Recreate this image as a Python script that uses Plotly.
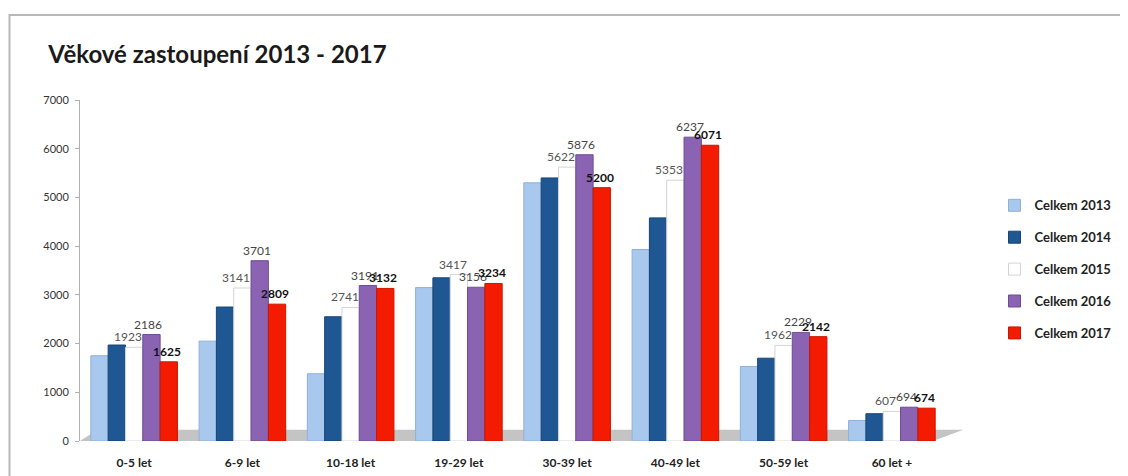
import plotly.graph_objects as go

categories = ["0-5 let", "6-9 let", "10-18 let", "19-29 let", "30-39 let", "40-49 let", "50-59 let", "60 let +"]
celkem_2013 = [1750, 2050, 1380, 3150, 5300, 3930, 1530, 420]
celkem_2014 = [1970, 2750, 2550, 3350, 5400, 4580, 1700, 560]
celkem_2015 = [1923, 3141, 2741, 3417, 5622, 5353, 1962, 607]
celkem_2016 = [2186, 3701, 3191, 3156, 5876, 6237, 2229, 694]
celkem_2017 = [1625, 2809, 3132, 3234, 5200, 6071, 2142, 674]
y_ticks = [0, 1000, 2000, 3000, 4000, 5000, 6000, 7000]

BARGAP = 0.2
series = [
    ("Celkem 2013", celkem_2013, "#a8c8ee", "#8fb0d8", None),
    ("Celkem 2014", celkem_2014, "#1f5793", "#174477", None),
    ("Celkem 2015", celkem_2015, "#ffffff", "#d4d4d4", dict(color="#555555", size=12, family="Lato")),
    ("Celkem 2016", celkem_2016, "#8b63b3", "#6e4c94", dict(color="#444444", size=12, family="Lato")),
    ("Celkem 2017", celkem_2017, "#f31c00", "#c81600", dict(color="#111111", size=12, family="Lato", weight="bold")),
]

fig = go.Figure()
n = len(series)
bw = (1 - BARGAP) / n
label_shift = {2: -6, 3: -3, 4: -2}
for k, (name, vals, col, lcol, tfont) in enumerate(series):
    fig.add_trace(go.Bar(
        x=categories, y=vals, name=name, legendgroup=name,
        marker=dict(color=col, line=dict(color=lcol, width=1)),
    ))
    if tfont is not None:
        off = -(1 - BARGAP) / 2 + bw * (k + 0.5)
        for i, v in enumerate(vals):
            fig.add_annotation(x=i + off, y=v, xref="x", yref="y", text=str(v),
                               showarrow=False, yanchor="bottom", xanchor="center",
                               xshift=label_shift[k], yshift=1, font=tfont)

# 3D-like floor
fig.add_shape(type="path", xref="paper", yref="y",
              path="M 0 0 L 0.985 0 L 1.02 230 L 0.02 230 Z",
              fillcolor="#c4c4c4", line=dict(width=0), layer="below")
# outer frame
fig.add_shape(type="rect", xref="paper", yref="paper",
              x0=-0.0814, y0=-0.3, x1=1.4, y1=1.249,
              line=dict(color="#b8b8b8", width=2), fillcolor="rgba(0,0,0,0)")

fig.update_layout(
    width=1120, height=468,
    margin=dict(l=72, r=176, t=92, b=35),
    paper_bgcolor="white", plot_bgcolor="white",
    barmode="group", bargap=BARGAP, bargroupgap=0.0,
    title=dict(text="<b>Věkové zastoupení 2013 - 2017</b>", x=0.036, xanchor="left",
               y=0.9, yanchor="middle",
               font=dict(family="Lato", size=24, color="#1a1a1a")),
    font=dict(family="Lato", color="#333333"),
    legend=dict(x=1.056, xanchor="left", y=0.735, yanchor="top",
                font=dict(family="Lato", size=13, color="#222222", weight="bold"),
                tracegroupgap=12, itemwidth=30, bgcolor="rgba(0,0,0,0)"),
    showlegend=True,
)
fig.update_xaxes(showline=False, ticks="", tickfont=dict(size=12, color="#222222", weight="bold"),
                 showgrid=False, ticklabelstandoff=13, automargin=False)
fig.update_yaxes(range=[0, 7000], tickvals=y_ticks, ticktext=[str(t) for t in y_ticks],
                 showline=True, linecolor="#b0b0b0", linewidth=1, ticks="outside",
                 tickcolor="#b0b0b0", ticklen=4, showgrid=False, zeroline=False,
                 ticklabelstandoff=4, automargin=False,
                 tickfont=dict(size=11, color="#333333"))

fig.write_html("out.html")
